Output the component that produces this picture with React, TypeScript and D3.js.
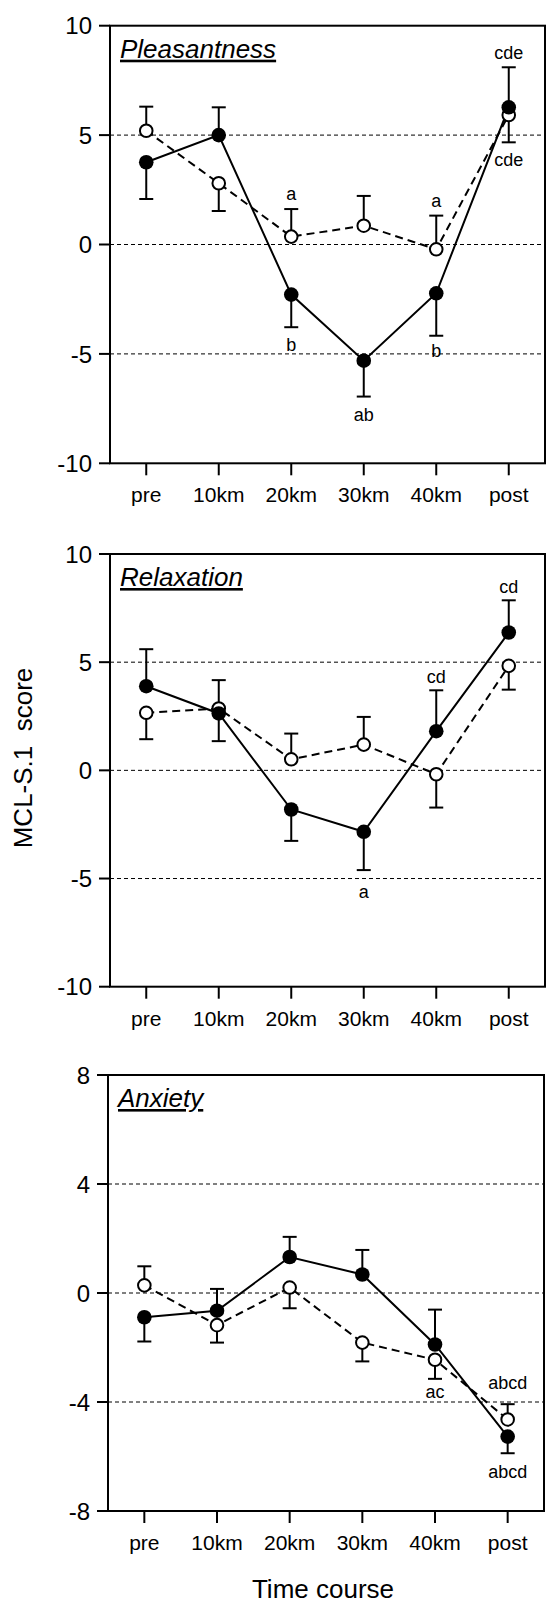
import React from 'react';
import * as d3 from 'd3';

const categories = ['pre', '10km', '20km', '30km', '40km', 'post'];

// Pleasantness
const pleasantFilled = [3.76, 5.0, -2.29, -5.31, -2.23, 6.27];
const pleasantFilledErr = [1.68, 1.27, 1.49, 1.64, 1.94, 1.83];
const pleasantFilledDir = [-1, 1, -1, -1, -1, 1];
const pleasantOpen = [5.2, 2.8, 0.36, 0.86, -0.22, 5.92];
const pleasantOpenErr = [1.1, 1.27, 1.26, 1.36, 1.54, 1.25];
const pleasantOpenDir = [1, -1, 1, 1, 1, -1];
const pleasantLabels: [string, string, number][] = [
  ['20km', 'a', 2.03], ['20km', 'b', -4.85], ['30km', 'ab', -8.05],
  ['40km', 'a', 1.7], ['40km', 'b', -5.16], ['post', 'cde', 8.48], ['post', 'cde', 3.6],
];

// Relaxation
const relaxFilled = [3.89, 2.63, -1.81, -2.84, 1.81, 6.37];
const relaxFilledErr = [1.71, 1.28, 1.45, 1.77, 1.89, 1.49];
const relaxFilledDir = [1, -1, -1, -1, 1, 1];
const relaxOpen = [2.66, 2.86, 0.51, 1.19, -0.18, 4.83];
const relaxOpenErr = [1.22, 1.31, 1.19, 1.28, 1.54, 1.1];
const relaxOpenDir = [-1, 1, 1, 1, -1, -1];
const relaxLabels: [string, string, number][] = [
  ['post', 'cd', 8.21], ['40km', 'cd', 4.02], ['30km', 'a', -5.89],
];

// Anxiety
const anxFilled = [-0.89, -0.65, 1.32, 0.68, -1.89, -5.27];
const anxFilledErr = [0.89, 0.8, 0.74, 0.9, 1.28, 0.61];
const anxFilledDir = [-1, 1, 1, 1, 1, -1];
const anxOpen = [0.28, -1.18, 0.2, -1.82, -2.45, -4.64];
const anxOpenErr = [0.7, 0.64, 0.76, 0.69, 0.7, 0.56];
const anxOpenDir = [1, -1, -1, -1, -1, 1];
const anxLabels: [string, string, number][] = [
  ['40km', 'ac', -3.84], ['post', 'abcd', -3.51], ['post', 'abcd', -6.8],
];

const ticks10 = [10, 5, 0, -5, -10];
const grid10 = [5, 0, -5];
const ticks8 = [8, 4, 0, -4, -8];
const grid8 = [4, 0, -4];

const FONT = '"Liberation Sans", Arial, Helvetica, sans-serif';

type Spec = {
  title: string;
  left: number; right: number; top: number; bottom: number;
  min: number; max: number;
  ticks: number[]; grid: number[];
  filled: number[]; filledErr: number[]; filledDir: number[];
  open: number[]; openErr: number[]; openDir: number[];
  labels: [string, string, number][];
};

function Panel({ s }: { s: Spec }) {
  const x = d3.scalePoint<string>().domain(categories).range([s.left, s.right]).padding(0.5);
  const y = d3.scaleLinear().domain([s.min, s.max]).range([s.bottom, s.top]);
  const line = d3.line<number>().x((_, i) => x(categories[i]) as number).y(d => y(d));
  const cap = 7;
  const errBars = (vals: number[], errs: number[], dirs: number[], key: string) =>
    vals.map((v, i) => {
      const cx = x(categories[i]) as number;
      const end = y(v + dirs[i] * errs[i]);
      return (
        <g key={key + i}>
          <line x1={cx} x2={cx} y1={y(v)} y2={end} stroke="#000" strokeWidth={2} />
          <line x1={cx - cap} x2={cx + cap} y1={end} y2={end} stroke="#000" strokeWidth={2} />
        </g>
      );
    });
  return (
    <g fontFamily={FONT}>
      {s.grid.map(g => (
        <line key={'g' + g} x1={s.left} x2={s.right} y1={y(g)} y2={y(g)} stroke="#000" strokeWidth={1} strokeDasharray="4,3" />
      ))}
      <rect x={s.left} y={s.top} width={s.right - s.left} height={s.bottom - s.top} fill="none" stroke="#000" strokeWidth={2} />
      {s.ticks.map(t => (
        <g key={'t' + t}>
          <line x1={s.left - 11} x2={s.left} y1={y(t)} y2={y(t)} stroke="#000" strokeWidth={2} />
          <text x={s.left - 18} y={y(t)} dy="0.36em" textAnchor="end" fontSize={24}>{t}</text>
        </g>
      ))}
      {categories.map(c => (
        <g key={'x' + c}>
          <line x1={x(c)} x2={x(c)} y1={s.bottom} y2={s.bottom + 12} stroke="#000" strokeWidth={2} />
          <text x={x(c)} y={s.bottom + 39} textAnchor="middle" fontSize={21}>{c}</text>
        </g>
      ))}
      <text x={s.left + 10} y={s.top + 32} fontSize={26} fontStyle="italic" style={{ textDecoration: 'underline' }}>{s.title}</text>
      <path d={line(s.open) || ''} fill="none" stroke="#000" strokeWidth={2} strokeDasharray="8,5" />
      <path d={line(s.filled) || ''} fill="none" stroke="#000" strokeWidth={2} />
      {errBars(s.open, s.openErr, s.openDir, 'oe')}
      {errBars(s.filled, s.filledErr, s.filledDir, 'fe')}
      {s.open.map((v, i) => (
        <circle key={'oc' + i} cx={x(categories[i])} cy={y(v)} r={6.3} fill="#fff" stroke="#000" strokeWidth={2} />
      ))}
      {s.filled.map((v, i) => (
        <circle key={'fc' + i} cx={x(categories[i])} cy={y(v)} r={7.3} fill="#000" />
      ))}
      {s.labels.map(([c, t, v], i) => (
        <text key={'l' + i} x={x(c)} y={y(v)} textAnchor="middle" fontSize={18}>{t}</text>
      ))}
    </g>
  );
}

const specs: Spec[] = [
  {
    title: 'Pleasantness', left: 110, right: 545, top: 25.7, bottom: 463.3, min: -10, max: 10,
    ticks: ticks10, grid: grid10,
    filled: pleasantFilled, filledErr: pleasantFilledErr, filledDir: pleasantFilledDir,
    open: pleasantOpen, openErr: pleasantOpenErr, openDir: pleasantOpenDir, labels: pleasantLabels,
  },
  {
    title: 'Relaxation', left: 110, right: 545, top: 554, bottom: 986.7, min: -10, max: 10,
    ticks: ticks10, grid: grid10,
    filled: relaxFilled, filledErr: relaxFilledErr, filledDir: relaxFilledDir,
    open: relaxOpen, openErr: relaxOpenErr, openDir: relaxOpenDir, labels: relaxLabels,
  },
  {
    title: 'Anxiety', left: 108, right: 544, top: 1075, bottom: 1511, min: -8, max: 8,
    ticks: ticks8, grid: grid8,
    filled: anxFilled, filledErr: anxFilledErr, filledDir: anxFilledDir,
    open: anxOpen, openErr: anxOpenErr, openDir: anxOpenDir, labels: anxLabels,
  },
];

export default function App() {
  return (
    <svg width={546} height={1607} style={{ position: 'absolute', left: 0, top: 0, background: '#fff' }}>
      <rect x={0} y={0} width={546} height={1607} fill="#fff" />
      {specs.map(s => <Panel key={s.title} s={s} />)}
      <text transform="translate(32,758) rotate(-90)" textAnchor="middle" fontSize={26} fontFamily={FONT} style={{ whiteSpace: 'pre' }}>
        MCL-S.1  score
      </text>
      <text x={323} y={1598} textAnchor="middle" fontSize={26} fontFamily={FONT}>Time course</text>
    </svg>
  );
}
